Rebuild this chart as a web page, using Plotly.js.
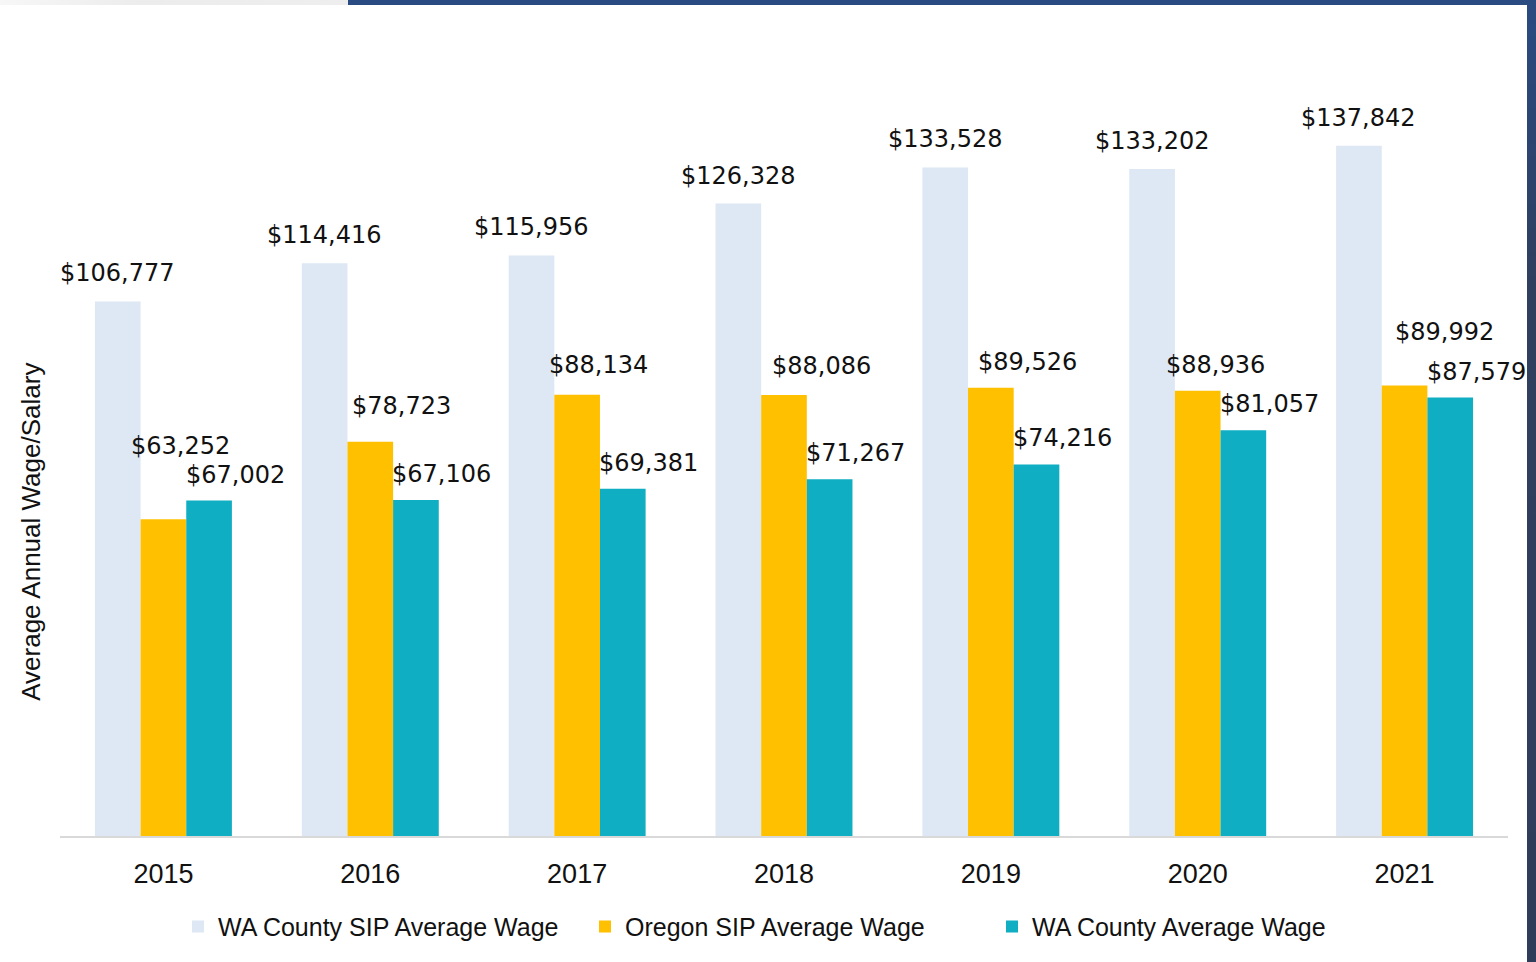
<!DOCTYPE html>
<html>
<head>
<meta charset="utf-8">
<script src="https://cdn.plot.ly/plotly-3.0.1.min.js"></script>
<style>
  html, body { margin: 0; padding: 0; background: #ffffff; }
  #wrap { position: relative; width: 1536px; height: 962px; overflow: hidden; }
  #chart { position: absolute; left: 0; top: 0; width: 1536px; height: 962px; }
  #topGray { position: absolute; left: 0; top: 0; width: 348px; height: 5px;
             background: linear-gradient(to right, #f7f7f7, #ececec 40%, #eeeeee); z-index: 5; }
  #topNavy { position: absolute; left: 348px; top: 0; width: 1188px; height: 5px; background: #2a4b82; z-index: 5; }
  #rightNavy { position: absolute; left: 1527px; top: 0; width: 9px; height: 962px;
               background: linear-gradient(to bottom, #2a4b82, #2f3f5e 30%, #2e3d5a); z-index: 5; }
</style>
</head>
<body>
<div id="wrap">
  <div id="chart"></div>
  <div id="topGray"></div>
  <div id="topNavy"></div>
  <div id="rightNavy"></div>
</div>
<script>
// ---- data ----
const years = ['2015', '2016', '2017', '2018', '2019', '2020', '2021'];
const waSipWage = [106777, 114416, 115956, 126328, 133528, 133202, 137842];
const oregonSipWage = [63252, 78723, 88134, 88086, 89526, 88936, 89992];
const waCountyWage = [67002, 67106, 69381, 71267, 74216, 81057, 87579];
const seriesNames = ['WA County SIP Average Wage', 'Oregon SIP Average Wage', 'WA County Average Wage'];
const yAxisTitle = 'Average Annual Wage/Salary';

// ---- style ----
const colors = ['#dde8f4', '#ffc000', '#0faec2'];
const W = 1536, H = 962;
const margin = { l: 60, r: 28, t: 85, b: 124 };
const bargap = 0.338;
const yMax = 150000;
const textColor = '#111111';
const labelFont = { family: 'DejaVu Sans, Arial, sans-serif', size: 24, color: textColor };
// label nudges in px (label placement, relative to each bar's top centre)
const labelLiftWa = 28, labelShiftWa = 0;
const labelLiftTeal = 26, labelShiftTeal = 26;
const oregonLabelNudgeX = [17, 31, 21, 37, 37, 18, 40];
const oregonLabelNudgeY = [73, 36, 30, 29, 26, 26, 53];

const traces = [waSipWage, oregonSipWage, waCountyWage].map((vals, i) => ({
  type: 'bar',
  name: seriesNames[i],
  x: years,
  y: vals,
  marker: { color: colors[i], line: { width: 0 } },
  hoverinfo: 'x+y'
}));

// bar geometry in px derived from layout
const plotW = W - margin.l - margin.r;
const plotH = H - margin.t - margin.b;
const catW = plotW / years.length;
const barW = catW * (1 - bargap) / 3;

const fmt = v => '$' + v.toLocaleString('en-US');
const annotations = [];
years.forEach((yr, k) => {
  annotations.push({ x: k, y: waSipWage[k], xref: 'x', yref: 'y', text: fmt(waSipWage[k]),
    showarrow: false, xanchor: 'center', yanchor: 'middle', xshift: -barW + labelShiftWa, yshift: labelLiftWa, font: labelFont });
  annotations.push({ x: k, y: oregonSipWage[k], xref: 'x', yref: 'y', text: fmt(oregonSipWage[k]),
    showarrow: false, xanchor: 'center', yanchor: 'middle', xshift: oregonLabelNudgeX[k], yshift: oregonLabelNudgeY[k], font: labelFont });
  annotations.push({ x: k, y: waCountyWage[k], xref: 'x', yref: 'y', text: fmt(waCountyWage[k]),
    showarrow: false, xanchor: 'center', yanchor: 'middle', xshift: barW + labelShiftTeal, yshift: labelLiftTeal, font: labelFont });
});
// y-axis title (placed as rotated text to sit where the reference has it)
annotations.push({ xref: 'paper', yref: 'paper', x: 0, y: (H - margin.b - 533) / plotH, xshift: -29,
  text: yAxisTitle, textangle: -90, showarrow: false, xanchor: 'center', yanchor: 'middle',
  font: { family: 'Liberation Sans, Arial, sans-serif', size: 26, color: textColor } });

const layout = {
  width: W, height: H,
  margin: margin,
  paper_bgcolor: '#ffffff',
  plot_bgcolor: '#ffffff',
  barmode: 'group',
  bargap: bargap,
  bargroupgap: 0,
  showlegend: true,
  legend: {
    orientation: 'h', x: (178 - margin.l) / plotW, xanchor: 'left', y: -0.121, yanchor: 'middle',
    entrywidth: 362, entrywidthmode: 'pixels',
    font: { family: 'Liberation Sans, Arial, sans-serif', size: 25, color: textColor },
    traceorder: 'normal'
  },
  xaxis: {
    type: 'category',
    range: [-0.5, years.length - 0.5],
    showline: true, linecolor: '#d9d9d9', linewidth: 2,
    ticks: '', showgrid: false, zeroline: false,
    tickfont: { family: 'Liberation Sans, Arial, sans-serif', size: 27, color: textColor },
    ticklabelstandoff: 13
  },
  yaxis: {
    range: [0, yMax],
    showgrid: false, zeroline: false, showline: false,
    showticklabels: false, ticks: ''
  },
  annotations: annotations
};

Plotly.newPlot('chart', traces, layout, { displayModeBar: false });
</script>
</body>
</html>
